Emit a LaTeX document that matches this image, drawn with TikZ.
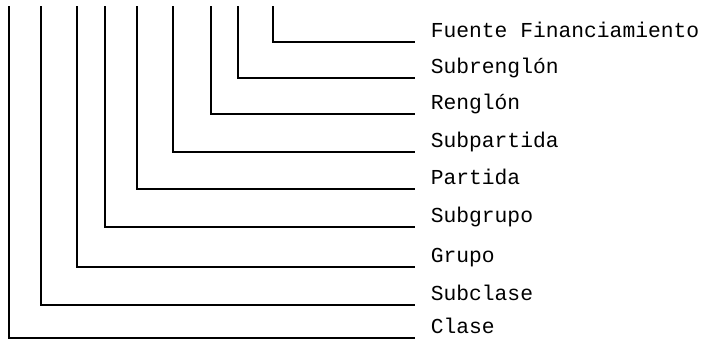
\documentclass[tikz,border=0pt]{standalone}
\usepackage{fontspec}
\setmonofont{Liberation Mono}

\begin{document}
\begin{tikzpicture}[x=1pt, y=-1pt, line width=1.6pt,
    level/.style={font=\ttfamily\fontsize{21.3}{24}\selectfont, anchor=base west, inner sep=0pt},
    branch/.style={draw, line cap=rect}]
            \useasboundingbox (0,0) rectangle (701,341);

            % Top ends of the vertical lines
            \coordinate (clase-top) at (9,7);
            \coordinate (subclase-top) at (41,7);
            \coordinate (grupo-top) at (77,7);
            \coordinate (subgrupo-top) at (105,7);
            \coordinate (partida-top) at (137,7);
            \coordinate (subpartida-top) at (173,7);
            \coordinate (renglon-top) at (211,7);
            \coordinate (subrenglon-top) at (238,7);
            \coordinate (fuente-top) at (273,7);

            % Right ends of the horizontal lines
            \coordinate (clase-end) at (414,338);
            \coordinate (subclase-end) at (414,305);
            \coordinate (grupo-end) at (414,267);
            \coordinate (subgrupo-end) at (414,227);
            \coordinate (partida-end) at (414,189);
            \coordinate (subpartida-end) at (414,152);
            \coordinate (renglon-end) at (414,114);
            \coordinate (subrenglon-end) at (414,78);
            \coordinate (fuente-end) at (414,42);

            % Draw the labels
            \node[level] (clase) at (430,333) {Clase};
            \node[level] (subclase) at (430,300) {Subclase};
            \node[level] (grupo) at (430,262) {Grupo};
            \node[level] (subgrupo) at (430,222) {Subgrupo};
            \node[level] (partida) at (430,184) {Partida};
            \node[level] (subpartida) at (430,147) {Subpartida};
            \node[level] (renglon) at (430,109) {Renglón};
            \node[level] (subrenglon) at (430,73) {Subrenglón};
            \node[level] (fuente) at (430,37) {Fuente Financiamiento};

            % Draw the brackets
            \draw[branch] (clase-top) |- (clase-end);
            \draw[branch] (subclase-top) |- (subclase-end);
            \draw[branch] (grupo-top) |- (grupo-end);
            \draw[branch] (subgrupo-top) |- (subgrupo-end);
            \draw[branch] (partida-top) |- (partida-end);
            \draw[branch] (subpartida-top) |- (subpartida-end);
            \draw[branch] (renglon-top) |- (renglon-end);
            \draw[branch] (subrenglon-top) |- (subrenglon-end);
            \draw[branch] (fuente-top) |- (fuente-end);
\end{tikzpicture}
\end{document}
